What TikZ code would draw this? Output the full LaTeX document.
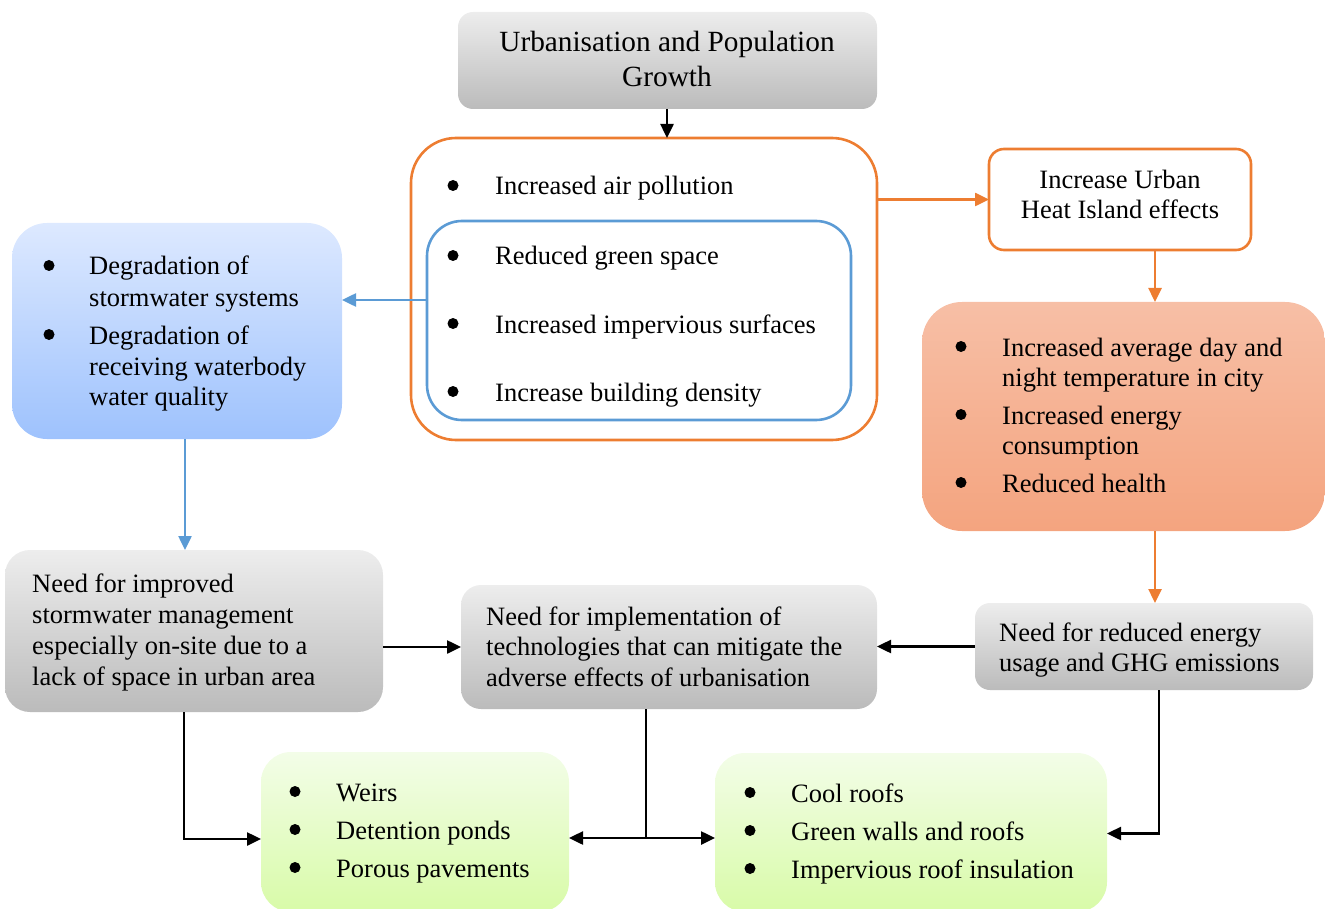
\documentclass[tikz,border=0pt]{standalone}
\usepackage{fontspec}
\setmainfont{Liberation Serif}
\usetikzlibrary{arrows.meta,fit}
\definecolor{orn}{HTML}{ED7D31}
\definecolor{blu}{HTML}{5B9BD5}
\definecolor{grayT}{HTML}{EDEDED}
\definecolor{grayB}{HTML}{BBBBBB}
\definecolor{bluT}{HTML}{DDE9FF}
\definecolor{bluB}{HTML}{9EC2FD}
\definecolor{ornT}{HTML}{F7BFA6}
\definecolor{ornB}{HTML}{F4A47F}
\definecolor{grnT}{HTML}{F3FDE8}
\definecolor{grnB}{HTML}{D8FBA8}
\newcommand\bitem[4]{\fill (#1,#3-9.5) circle (5.5pt); \node[txt] at (#2,#3) {#4};}
\begin{document}
\begin{tikzpicture}[x=1pt,y=-1pt,
  box/.style={inner sep=0pt, outer sep=0pt},
  graybox/.style={box, top color=grayT, bottom color=grayB, draw=none},
  txt/.style={anchor=base west, inner sep=0pt, font=\fontsize{26.5}{31}\selectfont},
  ctxt/.style={anchor=base, inner sep=0pt, font=\fontsize{26.5}{31}\selectfont},
  arr/.style={-{Triangle[length=14pt,width=13pt]}, line width=2.5pt},
  oarr/.style={arr, draw=orn},
  barr/.style={arr, draw=blu}]
\useasboundingbox (0,0) rectangle (1325,909);

% boxes
\node[graybox, rounded corners=15pt, fit={(458,12) (877,109)}] (top) {};
\node[box, draw=orn, line width=2.6pt, fill=white, rounded corners=45pt, fit={(411,138) (877,440)}] (outer) {};
\node[box, draw=blu, line width=2.6pt, rounded corners=35pt, fit={(427,221) (851,420)}] (inner) {};
\node[box, top color=bluT, bottom color=bluB, rounded corners=35pt, fit={(12,223) (342,439)}] (blue) {};
\node[box, draw=orn, line width=2.6pt, fill=white, rounded corners=15pt, fit={(989,149) (1251,250)}] (uhi) {};
\node[box, top color=ornT, bottom color=ornB, rounded corners=40pt, fit={(922,302) (1325,531)}] (ob) {};
\node[graybox, rounded corners=25pt, fit={(5,550) (383,712)}] (ng1) {};
\node[graybox, rounded corners=20pt, fit={(461,585) (877,709)}] (ni) {};
\node[graybox, rounded corners=15pt, fit={(975,603) (1313,690)}] (ne) {};
\node[box, top color=grnT, bottom color=grnB, rounded corners=30pt, fit={(261,752) (569,912)}] (gL) {};
\node[box, top color=grnT, bottom color=grnB, rounded corners=30pt, fit={(715,753) (1107,912)}] (gR) {};

% texts
\node[ctxt, font=\fontsize{29.3}{35}\selectfont] at (667,52) {Urbanisation and Population};
\node[ctxt, font=\fontsize{29.3}{35}\selectfont] at (667,87) {Growth};

\bitem{453}{495}{195}{Increased air pollution}
\bitem{453}{495}{265}{Reduced green space}
\bitem{453}{495}{333}{Increased impervious surfaces}
\bitem{453}{495}{401}{Increase building density}

\bitem{49}{89}{275}{Degradation of}
\node[txt] at (89,306) {stormwater systems};
\bitem{49}{89}{344}{Degradation of}
\node[txt] at (89,375) {receiving waterbody};
\node[txt] at (89,405) {water quality};

\node[ctxt] at (1120,189) {Increase Urban};
\node[ctxt] at (1120,219) {Heat Island effects};

\bitem{961}{1002}{356}{Increased average day and}
\node[txt] at (1002,386) {night temperature in city};
\bitem{961}{1002}{424}{Increased energy}
\node[txt] at (1002,454) {consumption};
\bitem{961}{1002}{492}{Reduced health}

\node[txt] at (32,592) {Need for improved};
\node[txt] at (32,623) {stormwater management};
\node[txt] at (32,654) {especially on-site due to a};
\node[txt] at (32,685) {lack of space in urban area};

\node[txt] at (486,625) {Need for implementation of};
\node[txt] at (486,655) {technologies that can mitigate the};
\node[txt] at (486,686) {adverse effects of urbanisation};

\node[txt] at (999,641) {Need for reduced energy};
\node[txt] at (999,671) {usage and GHG emissions};

\bitem{295}{336}{801}{Weirs}
\bitem{295}{336}{839}{Detention ponds}
\bitem{295}{336}{877}{Porous pavements}

\bitem{750}{791}{802}{Cool roofs}
\bitem{750}{791}{840}{Green walls and roofs}
\bitem{750}{791}{878}{Impervious roof insulation}

% connectors
\draw[arr] (top.south -| 667,0) -- (outer.north -| 667,0);
\draw[oarr] (outer.east |- uhi.west) -- (uhi.west);
\draw[barr] ([yshift=20.5pt]inner.west) -- ([yshift=20.5pt]inner.west -| blue.east);
\draw[barr] ([xshift=8pt]blue.south) -- ([xshift=8pt]blue.south |- ng1.north);
\draw[oarr] ([xshift=35pt]uhi.south) -- ([xshift=35pt]uhi.south |- ob.north);
\draw[oarr] ([xshift=31.5pt]ob.south) -- ([xshift=31.5pt]ob.south |- ne.north);
\draw[arr] (ng1.east |- ni.west) -- (ni.west);
\draw[arr] (ne.west) -- (ne.west -| ni.east);
\draw[arr] ([xshift=15pt]ne.south) |- ([yshift=-1pt]gR.east);
\draw[arr] ([xshift=-10pt]ng1.south) |- ([yshift=-7pt]gL.west);
\coordinate (j) at (646,838);
\draw[line width=2.5pt] (ni.south -| j) -- (j);
\draw[arr] (j) -- (j -| gL.east);
\draw[arr] (j) -- (j -| gR.west);
\end{tikzpicture}
\end{document}
